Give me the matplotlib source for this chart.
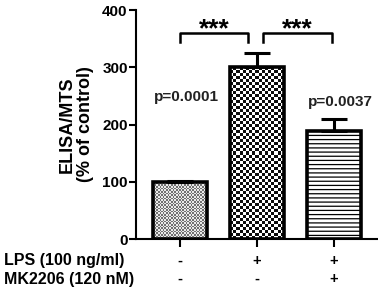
import numpy as np
import matplotlib.pyplot as plt

plt.rcParams['font.family'] = ['Liberation Sans', 'DejaVu Sans']
plt.rcParams['font.weight'] = 'bold'
plt.rcParams['hatch.linewidth'] = 0.9

# data
groups = ['Control', 'LPS', 'LPS + MK2206']
means = [100, 300, 188]
errors = [2, 25, 22]
lps_row = ['-', '+', '+']
mk_row = ['-', '-', '+']
p_labels = ['p=0.0001', '', 'p=0.0037']
p_heights = [248, 0, 240]
sig_pairs = [(0, 1), (1, 2)]
sig_text = ['***', '***']

fig = plt.figure(figsize=(3.78, 2.88), dpi=100)
ax = fig.add_axes([0.36, 0.17, 0.638, 0.795])

x = np.arange(len(groups))
width = 0.70
bars = ax.bar(x, means, width=width, facecolor='none', edgecolor='black',
              linewidth=2.6, zorder=3)
bars[2].set_facecolor('white')
bars[2].set_hatch('----')
bars[2].set_zorder(2)

ax.set_xlim(-0.57, 2.56)
ax.set_ylim(0, 400)
fig.canvas.draw()


def checker_fill(bar, cell_px, c1, c2):
    # fill a bar with a checkerboard image clipped to the bar outline
    x0, y0 = bar.get_x(), bar.get_y()
    x1, y1 = x0 + bar.get_width(), y0 + bar.get_height()
    p0 = ax.transData.transform((x0, y0))
    p1 = ax.transData.transform((x1, y1))
    nx = max(int(abs(p1[0] - p0[0]) / cell_px), 1)
    ny = max(int(abs(p1[1] - p0[1]) / cell_px), 1)
    grid = (np.indices((ny, nx)).sum(axis=0) % 2).astype(float)
    img = np.where(grid[..., None] > 0, c1, c2)
    im = ax.imshow(img, extent=(x0, x1, y0, y1), origin='lower',
                   interpolation='nearest', aspect='auto', zorder=1)
    im.set_clip_path(bar)


checker_fill(bars[0], 1.6, np.array([0.45, 0.45, 0.45]),
             np.array([0.92, 0.92, 0.92]))
checker_fill(bars[1], 3.0, np.array([0.05, 0.05, 0.05]),
             np.array([1.0, 1.0, 1.0]))
ax.set_xlim(-0.57, 2.56)
ax.set_ylim(0, 400)

ax.errorbar(x, means, yerr=[np.zeros(len(means)), errors], fmt='none',
            ecolor='black', elinewidth=2.2, capsize=9.5, capthick=2.2,
            zorder=4)

# significance brackets
for (a, b), txt in zip(sig_pairs, sig_text):
    xa, xb = a + 0.0, b - 0.12
    if a == 1:
        xa, xb = a + 0.08, b - 0.03
    ax.plot([xa, xa, xb, xb], [345, 360, 360, 345], color='black', lw=1.8,
            clip_on=False)
    ax.text((xa + xb) / 2, 366, txt, ha='center', va='center', fontsize=19,
            fontweight='bold', clip_on=False)

for xi, lab, h in zip(x, p_labels, p_heights):
    if lab:
        ax.text(xi + 0.08, h, lab, ha='center', va='center', fontsize=11,
                fontweight='bold', color='#222222')

ax.spines['top'].set_visible(False)
ax.spines['right'].set_visible(False)
ax.spines['left'].set_linewidth(1.5)
ax.spines['bottom'].set_linewidth(1.5)
ax.set_yticks([0, 100, 200, 300, 400])
ax.set_xticks(x)
ax.set_xticklabels([])
ax.tick_params(axis='y', length=5, width=1.5, labelsize=11, pad=1)
ax.tick_params(axis='x', length=6, width=1.5)
for t in ax.get_yticklabels():
    t.set_fontweight('bold')
ax.set_ylabel('ELISA/MTS\n(% of control)', fontsize=13, fontweight='bold',
              labelpad=6, linespacing=1.1)

# treatment table under the axis
tr = ax.get_xaxis_transform()
for xi, a, b in zip(x, lps_row, mk_row):
    ax.text(xi, -0.096, a, transform=tr, ha='center', va='center',
            fontsize=10.5, fontweight='bold')
    ax.text(xi, -0.175, b, transform=tr, ha='center', va='center',
            fontsize=10.5, fontweight='bold')
fig.text(0.01, 0.094, 'LPS (100 ng/ml)', ha='left', va='center',
         fontsize=11.5, fontweight='bold')
fig.text(0.01, 0.031, 'MK2206 (120 nM)', ha='left', va='center',
         fontsize=11.5, fontweight='bold')

fig.savefig('out.png', dpi=100)
